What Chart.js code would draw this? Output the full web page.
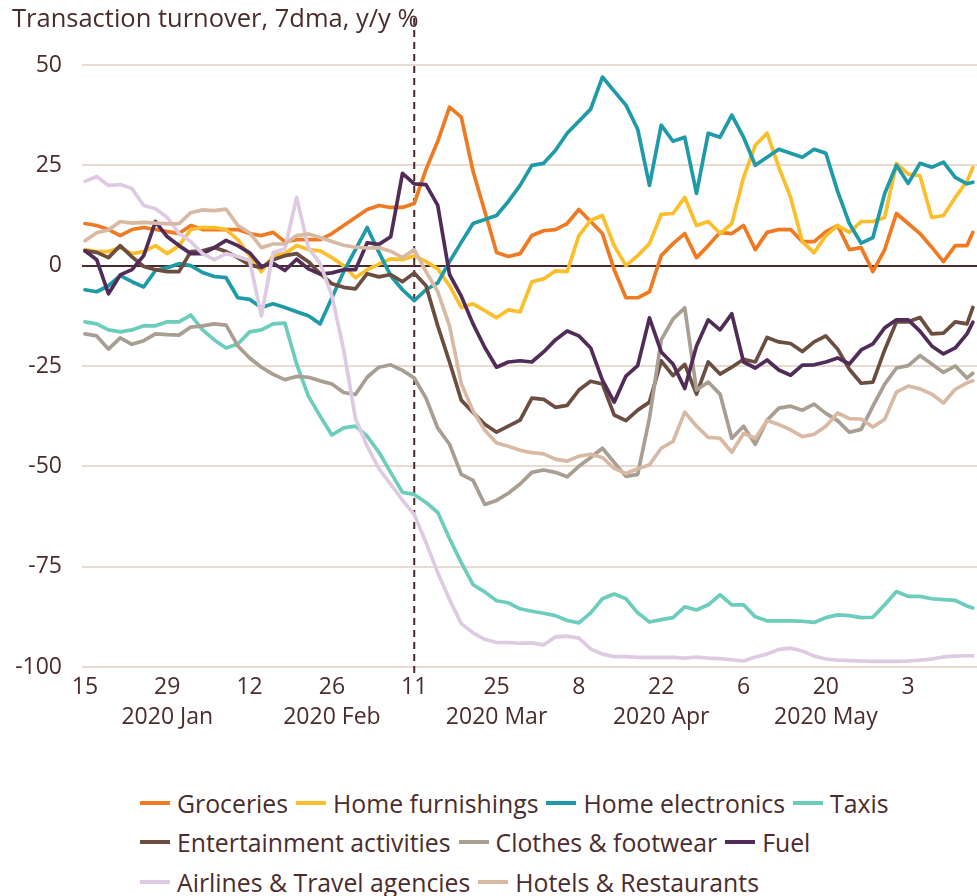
<!DOCTYPE html>
<html><head><meta charset="utf-8">
<script src="https://cdn.jsdelivr.net/npm/chart.js@4.4.1/dist/chart.umd.min.js"></script>
<style>
html,body{margin:0;padding:0;background:#fff;}
#wrap{position:relative;width:977px;height:896px;overflow:hidden;}
#c{position:absolute;left:0;top:0;}
#legend{position:absolute;left:140px;top:783px;font-family:'Open Sans',sans-serif;font-size:24.8px;color:#4b2c2c;}
.row{display:flex;height:39.5px;align-items:center;white-space:nowrap;}
.item{display:flex;align-items:center;margin-right:8px;}
.sw{width:30px;height:4px;margin-right:7px;}
</style></head><body>
<div id="wrap"><canvas id="c" width="977" height="745"></canvas><div id="legend"></div></div>
<script>
const days = [0,2,4,6,8,10,12,14,16,18,20,22,24,26,28,30,32,34,36,38,40,42,44,46,48,50,52,54,56,58,60,62,64,66,68,70,72,74,76,78,80,82,84,86,88,90,92,94,96,98,100,102,104,106,108,110,112,114,116,118,120,122,124,126,128,130,132,134,136,138,140,142,144,146,148,150,151];

const groceries = [10.5,10,9,7.5,9,9.5,9,8.5,8,10,9,9,9,9,8,7.5,8.3,6,6.5,6.5,6.5,8,10,12,14,15,14.5,14.5,15.5,24,31,39.5,37,23.5,13.5,3.3,2.3,3,7.5,8.7,9,10.5,14,11,8,-1,-8,-8,-6.5,2.5,5.5,8,2,5,8.3,8,10,4,8.3,9,9,6,6,8.5,10,4,4.5,-1.5,4,13,10.5,8,4.6,1,5,5,8.3];
const homeFurnishings = [4,3.5,3.5,4.5,3,3.5,5,3,5,9,9.5,9.5,9,6.5,2.5,-1.5,2.5,3,5,4,3.7,2,0,-3,-1,0.4,1.7,1.5,2.5,1,-0.8,-5,-10.4,-9.5,-11.2,-13,-11,-11.5,-4,-3.3,-1.3,-1.5,7.5,11.3,12.5,5,0,2.5,5.5,12.8,13,17,10,11,8,10.5,22,30,33,24.5,17,6,3.2,7.5,10,8.3,11,11,12,25.5,22.8,22.4,12,12.5,17,21,24.5];
const homeElectronics = [-6,-6.5,-5,-2.5,-4,-5.3,-1.2,-0.5,0.5,0,-1.7,-2.7,-3,-8,-8.4,-10.4,-9.5,-10.4,-11.5,-12.5,-14.5,-8,-1.5,4,9.5,3.3,-2.5,-6,-8.7,-6,-4.3,1,5.8,10.5,11.5,12.5,16,20,25,25.5,28.7,33,36,39,47,43.5,40,34,20,35,31,32,18,33,32,37.5,32,25,27,29,28,27,29,28,18.5,10.5,5.6,7,18,25,20.5,25.5,24.5,25.8,22,20.4,20.8];
const taxis = [-14,-14.5,-16,-16.5,-16,-15,-15,-14,-14,-12.3,-16,-18.5,-20.5,-19.5,-16.5,-16,-14.5,-14.3,-24.5,-32.5,-37.5,-42.2,-40.4,-40,-42.5,-46.5,-51.5,-56.5,-57,-59,-61.5,-68,-74,-79.5,-81.3,-83.5,-84,-85.5,-86.1,-86.6,-87.2,-88.4,-89,-86.5,-83,-81.8,-83,-86.5,-88.8,-88.2,-87.7,-85,-85.8,-84.5,-82,-84.5,-84.5,-87.5,-88.5,-88.5,-88.5,-88.6,-88.9,-87.7,-87,-87.2,-87.7,-87.6,-84.5,-81.2,-82.4,-82.4,-83,-83.2,-83.4,-84.8,-85.3];
const entertainment = [3.7,3.3,2,5,2.2,-0.2,-1,-1.5,-1.5,3.5,3.7,4.5,3.5,2,0.2,-0.5,1.5,2.5,3,1,-2,-4.5,-5.4,-5.8,-2,-2.8,-2.2,-4,-1.8,-5,-15,-24,-33.5,-36.6,-39.5,-41.5,-40,-38.5,-33,-33.3,-35.3,-34.8,-31,-28.8,-29.5,-37.2,-38.6,-36,-34,-23.7,-27.4,-24.6,-32,-24,-27,-25.3,-23.3,-24,-17.9,-19,-19.4,-21.4,-19,-17.5,-20.8,-25.8,-29.3,-29,-21,-14,-14,-12.9,-17,-16.8,-14,-14.5,-10.4];
const clothes = [-17,-17.5,-20.8,-18,-19.6,-18.7,-17,-17.2,-17.3,-15.3,-15,-14.5,-14.8,-20,-23,-25.3,-27.1,-28.4,-27.6,-27.8,-28.7,-29.5,-31.6,-32.1,-27.8,-25.3,-24.7,-26.1,-28,-33,-40.5,-44.5,-52,-53.5,-59.5,-58.5,-56.7,-54.4,-51.5,-50.9,-51.5,-52.6,-50,-47.8,-45.5,-49,-52.5,-52,-38,-18.5,-13.3,-10.5,-31,-29,-32,-43,-40,-44.5,-38.5,-35.5,-35,-36,-34.5,-36.8,-38.6,-41.5,-40.8,-35,-29.5,-25.5,-24.9,-22.4,-24.5,-26.6,-25,-28,-26.8];
const fuel = [3.7,1.5,-7,-2.3,-1,2.5,11,7.2,5,3,3,4.5,6.3,5,3.2,-0.2,0.6,-1.2,1.6,-0.8,-2.1,-1.8,-1,-1,5.7,5.3,7.2,23,20.4,20.2,15,-2.2,-7.6,-14.5,-20.4,-25.3,-24,-23.7,-24,-21.5,-18.5,-16.3,-17.5,-20.5,-28.5,-34,-27.5,-24.9,-13,-21.5,-24.5,-30.6,-20,-13.5,-16,-12,-24,-25.5,-23.5,-26,-27.3,-24.8,-24.7,-24,-23,-24.5,-21,-19.5,-15.5,-13.5,-13.5,-16.3,-20,-22,-20.5,-17,-14.1];
const airlines = [21,22.2,20,20.2,19.2,15,14.2,12,8,6,3,1.5,3,2.3,1.3,-12.5,3.2,4.2,17,4.5,0.5,-7.5,-21,-38,-45,-50.6,-54.5,-58.4,-62,-69,-76.5,-83.2,-89.2,-91.5,-93.1,-93.9,-93.9,-94.1,-94,-94.5,-92.5,-92.3,-92.8,-95.5,-96.8,-97.4,-97.4,-97.6,-97.6,-97.6,-97.6,-97.8,-97.5,-97.8,-97.9,-98.2,-98.5,-97.5,-96.8,-95.6,-95.3,-96,-97.3,-98,-98.3,-98.4,-98.5,-98.6,-98.6,-98.6,-98.5,-98.3,-98,-97.5,-97.3,-97.2,-97.2];
const hotels = [6.2,8.2,8.9,11,10.6,10.8,10.6,10.4,10.5,13.2,13.9,13.7,14.1,10,8.2,4.5,5.4,5.4,7.5,7.9,7,6,5.1,4.6,4.4,4.5,3.6,2,4,-1.5,-6.5,-15,-29.4,-36.2,-41,-44.2,-45,-46,-46.6,-46.9,-48.2,-48.7,-47.5,-47,-47.8,-50.5,-51.8,-50.6,-49.6,-45.5,-43.8,-36.5,-40,-42.8,-43,-46.5,-41.8,-43,-38.6,-39.6,-40.9,-42.6,-42,-40,-36.7,-38.1,-38.2,-40.2,-38.3,-31.5,-30,-30.7,-32,-34.2,-30.8,-29.2,-28.7];

const seriesNames = ['Groceries','Home furnishings','Home electronics','Taxis','Entertainment activities','Clothes & footwear','Fuel','Airlines & Travel agencies','Hotels & Restaurants'];
const seriesValues = [groceries,homeFurnishings,homeElectronics,taxis,entertainment,clothes,fuel,airlines,hotels];
const seriesColors = ['#f07a22','#fcbf2b','#1f9aa7','#6ccdbd','#6b4e40','#a89e92','#522c58','#decbe3','#d8baa4'];

const tickDays = [0,14,28,42,56,70,84,98,112,126,140];
const tickLabels = ['15','29','12','26','11','25','8','22','6','20','3'];
const monthLabels = ['','2020 Jan','','2020 Feb','','2020 Mar','','2020 Apr','','2020 May',''];
const markerDay = 56;
const titleText = 'Transaction turnover, 7dma, y/y %';

const textColor = '#4b2c2c';
const fontFamily = "'Open Sans', sans-serif";
Chart.defaults.font.family = fontFamily;
Chart.defaults.color = textColor;

const datasets = seriesNames.map((name,i)=>({
  label:name,
  data: days.map((d,j)=>({x:d,y:seriesValues[i][j]})),
  borderColor: seriesColors[i],
  backgroundColor: seriesColors[i],
  borderWidth:3.7,
  pointRadius:0,
  tension:0,
  fill:false,
  borderJoinStyle:'round',
  borderCapStyle:'round',
  order: seriesNames.length - i
}));

const markerPlugin = {
  id:'marker',
  beforeDatasetsDraw(chart){
    const x = chart.scales.x.getPixelForValue(markerDay);
    const ctx = chart.ctx;
    ctx.save();
    ctx.strokeStyle = '#4a2a2a';
    ctx.lineWidth = 2;
    ctx.setLineDash([7,5]);
    ctx.beginPath();
    ctx.moveTo(x,18);
    ctx.lineTo(x,chart.chartArea.bottom+11);
    ctx.stroke();
    ctx.restore();
  }
};

new Chart(document.getElementById('c'),{
  type:'line',
  data:{datasets},
  plugins:[markerPlugin],
  options:{
    responsive:false,
    animation:false,
    devicePixelRatio:1,
    layout:{padding:{left:12,right:0,top:0,bottom:0}},
    plugins:{
      legend:{display:false},
      tooltip:{enabled:false},
      title:{display:true,text:titleText,align:'start',color:textColor,
        font:{size:25.5,weight:'normal',family:fontFamily,lineHeight:1.2},
        padding:{top:4,bottom:30.4}}
    },
    scales:{
      x:{type:'linear',min:-0.5,max:151.7,
        afterBuildTicks(s){ s.ticks = tickDays.map(v=>({value:v})); },
        afterFit(s){ s.height = 78; },
        grid:{display:false,drawTicks:false},
        border:{display:false},
        ticks:{autoSkip:false,maxRotation:0,padding:6,color:textColor,
          font:{size:23,lineHeight:1.3},
          callback(v){ const i = tickDays.indexOf(v); return i<0?'':[tickLabels[i], monthLabels[i]]; }}
      },
      y:{min:-100,max:50,
        afterFit(s){ s.width = 70; },
        border:{display:false},
        grid:{drawTicks:false,
          color:c=>c.tick && c.tick.value===0 ? '#4a2a2a' : '#e9dbd0',
          lineWidth:2},
        ticks:{stepSize:25,padding:20,color:textColor,font:{size:23}}
      }
    }
  }
});

const legendRows = [[0,1,2,3],[4,5,6],[7,8]];
const lg = document.getElementById('legend');
legendRows.forEach(r=>{
  const row = document.createElement('div'); row.className='row';
  r.forEach(i=>{
    const it = document.createElement('div'); it.className='item';
    const sw = document.createElement('span'); sw.className='sw'; sw.style.background=seriesColors[i];
    const tx = document.createElement('span'); tx.textContent = seriesNames[i];
    it.appendChild(sw); it.appendChild(tx); row.appendChild(it);
  });
  lg.appendChild(row);
});
</script>
</body></html>
